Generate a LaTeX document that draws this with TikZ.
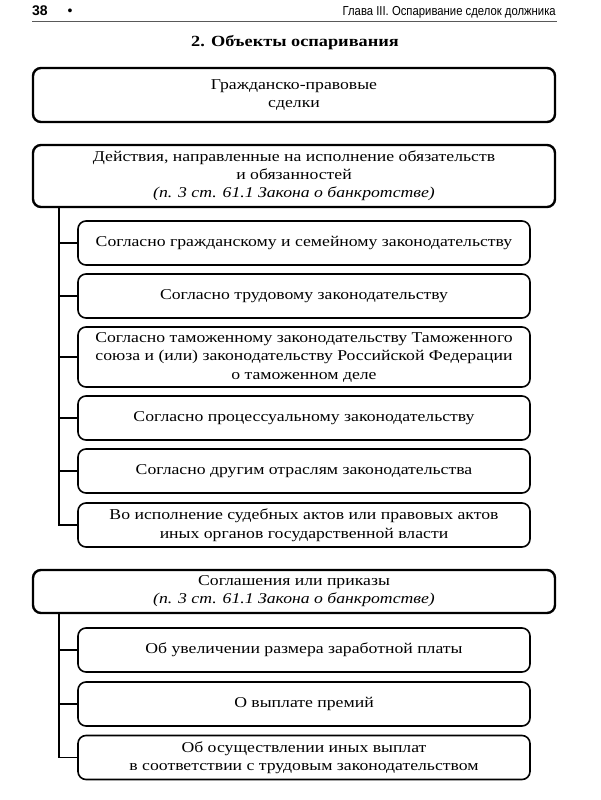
\documentclass[tikz,border=0pt]{standalone}
\usepackage{fontspec}
\setmainfont[FakeStretch=1.18]{Liberation Serif}
\newfontfamily\hdr[FakeStretch=0.87]{Liberation Sans}
\newfontfamily\hdrb{Liberation Sans}
\begin{document}
\begin{tikzpicture}[x=1pt,y=-1pt,
  bigbox/.style={draw, line width=2.4pt, rounded corners=8pt, minimum width=522pt, align=center, inner sep=0pt, font=\fontsize{15}{18}\selectfont},
  smallbox/.style={draw, line width=1.6pt, rounded corners=8pt, minimum width=452pt, minimum height=44pt, align=center, inner sep=0pt, font=\fontsize{15}{18.5}\selectfont},
  conn/.style={line width=1.6pt}]
\useasboundingbox (0,0) rectangle (600,800);
% header
\node[font=\hdrb\bfseries\fontsize{14}{14}\selectfont, anchor=west, inner sep=0pt] (pg) at (32,11) {38};
\node[font=\hdrb\fontsize{14}{14}\selectfont] (dot) at (70,12) {•};
\node[font=\hdr\fontsize{13}{13}\selectfont, anchor=east, inner sep=0pt] (hd) at (556,12) {Глава III. Оспаривание сделок должника};
\coordinate (hl1) at (32,22);
\coordinate (hl2) at (557,22);
\draw[line width=1pt, black!65] (hl1) -- (hl2);
\node[font=\bfseries\fontsize{15.5}{15.5}\selectfont] (title) at (295,43) {2. Объекты оспаривания};
% boxes
\node[bigbox, minimum height=54pt] (b1) at (294,95) {Гражданско-правовые\\сделки};
\node[bigbox, minimum height=62pt] (b2) at (294,176) {Действия, направленные на исполнение обязательств\\и обязанностей\\\textit{(п. 3 ст. 61.1 Закона о банкротстве)}};
\node[smallbox] (s1) at (304,243) {Согласно гражданскому и семейному законодательству};
\node[smallbox] (s2) at (304,296) {Согласно трудовому законодательству};
\node[smallbox, minimum height=60pt] (s3) at (304,357) {Согласно таможенному законодательству Таможенного\\союза и (или) законодательству Российской Федерации\\о таможенном деле};
\node[smallbox] (s4) at (304,418) {Согласно процессуальному законодательству};
\node[smallbox] (s5) at (304,471) {Согласно другим отраслям законодательства};
\node[smallbox] (s6) at (304,525) {Во исполнение судебных актов или правовых актов\\иных органов государственной власти};
\node[bigbox, minimum height=43pt] (b3) at (294,591.5) {Соглашения или приказы\\\textit{(п. 3 ст. 61.1 Закона о банкротстве)}};
\node[smallbox] (t1) at (304,650) {Об увеличении размера заработной платы};
\node[smallbox] (t2) at (304,704) {О выплате премий};
\node[smallbox] (t3) at (304,757.5) {Об осуществлении иных выплат\\в соответствии с трудовым законодательством};
% connectors
\coordinate (tr1) at (59,207);
\coordinate (tr2) at (59,613);
\draw[conn] (tr1) |- (s6.west);
\foreach \n in {s1,s2,s3,s4,s5}{\draw[conn] (tr1 |- \n.west) -- (\n.west);}
\draw[conn] (tr2) |- (t3.west);
\foreach \n in {t1,t2}{\draw[conn] (tr2 |- \n.west) -- (\n.west);}
\end{tikzpicture}
\end{document}
